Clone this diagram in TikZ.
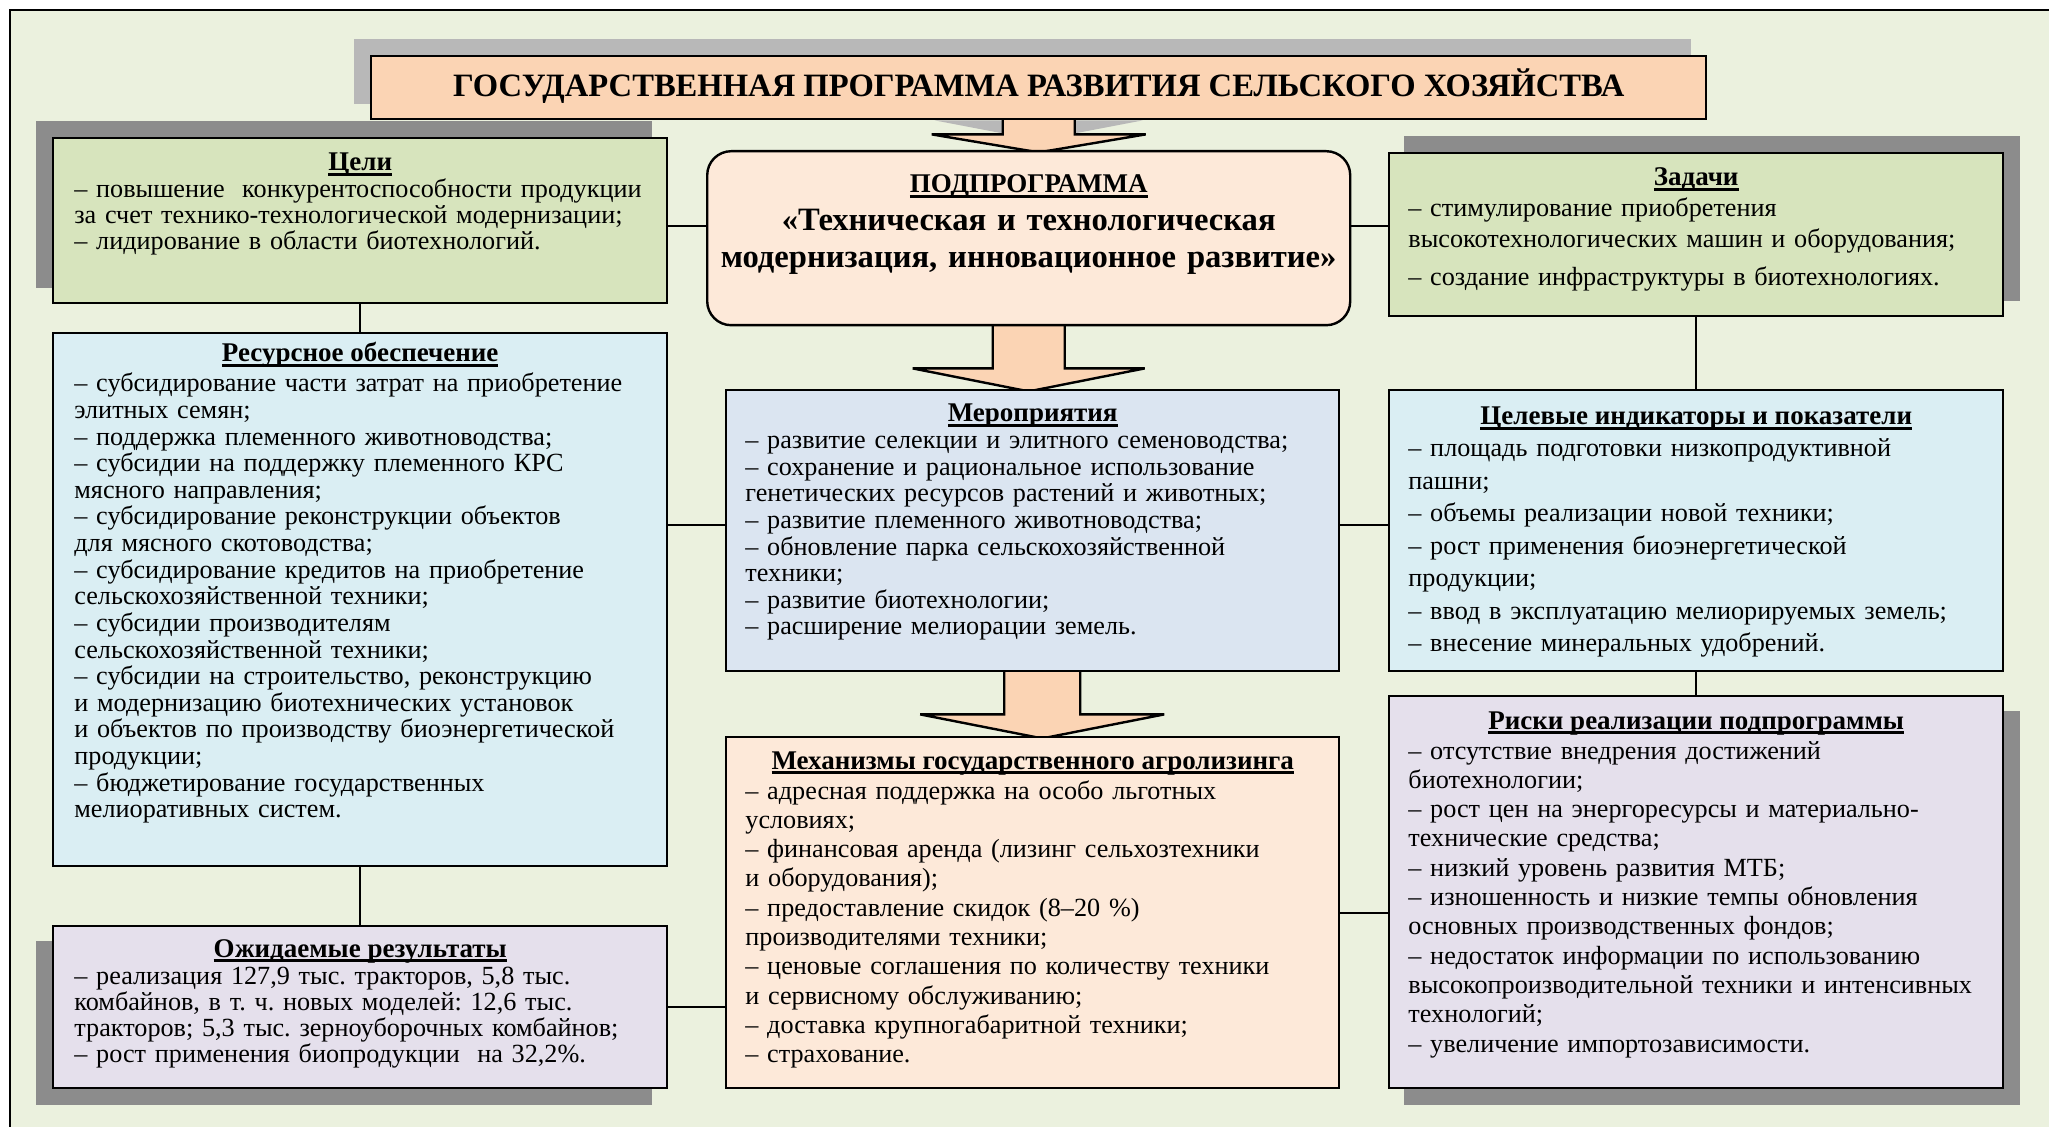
\documentclass[tikz,border=0pt]{standalone}
\usepackage{fontspec}
\setmainfont{Liberation Serif}
\usetikzlibrary{calc,backgrounds}
\frenchspacing

\definecolor{bgc}{HTML}{EBF1DE}
\definecolor{peach}{HTML}{FBD4B4}
\definecolor{peachl}{HTML}{FDE9D9}
\definecolor{olive}{HTML}{D7E4BD}
\definecolor{aqua}{HTML}{DAEEF3}
\definecolor{steel}{HTML}{DBE5F1}
\definecolor{lilac}{HTML}{E5E0EC}
\definecolor{shdark}{HTML}{8C8C8C}
\definecolor{shlight}{HTML}{B8B8B8}

% bold heading with a thick underline
\newsavebox\hdbox
\newcommand\hdul[1]{\sbox\hdbox{#1}\rlap{\rule[-2.3bp]{\wd\hdbox}{1.1bp}}\usebox\hdbox}

% block arrow: #1 base point, #2 shaft half-width, #3 head start, #4 head half-width, #5 tip
\newcommand\barrow[5]{%
  \draw[blockarrow] ($#1+(-#2,-6)$) -- ($#1+(-#2,#3)$) -- ($#1+(-#4,#3)$)
    -- ($#1+(0,#5)$) -- ($#1+(#4,#3)$) -- ($#1+(#2,#3)$) -- ($#1+(#2,-6)$) -- cycle;}

\begin{document}
\begin{tikzpicture}[x=0.5bp,y=-0.5bp,
  box/.style={draw=black,line width=1.2bp,inner sep=0pt,anchor=north west},
  hdr/.style={anchor=base,inner sep=0pt,font={\fontsize{13.5bp}{16bp}\selectfont\bfseries}},
  body/.style={anchor=base west,inner sep=0pt,align=left,text width=330bp,
     font={\fontsize{13.1bp}{#1bp}\selectfont\lineskiplimit=-30bp}},
  conn/.style={draw=black,line width=1bp},
  blockarrow/.style={draw=black,line width=1.2bp,fill=peach,line join=miter},
  shadow/.style={fill=shdark},
  ]
\useasboundingbox (0,0) rectangle (2049,1127);

% ---------- boxes ----------
\node[box,fill=peach,minimum width=667.5bp,minimum height=31.5bp] (title) at (370,55) {};
\node[anchor=base,inner sep=0pt,font={\fontsize{16.3bp}{18bp}\selectfont\bfseries}] (title-t)
  at ($(title.north)+(0,42)$) {ГОСУДАРСТВЕННАЯ ПРОГРАММА РАЗВИТИЯ СЕЛЬСКОГО ХОЗЯЙСТВА};

\node[box,fill=olive,minimum width=307bp,minimum height=82.5bp] (celi) at (52,137) {};
\node[hdr] (celi-h) at ($(celi.north)+(0,34)$) {\hdul{Цели}};
\node[body=13] (celi-t) at ($(celi.north west)+(22,61)$)
  {– повышение\ \ конкурентоспособности продукции\\
   за счет технико-технологической модернизации;\\
   – лидирование в области биотехнологий.};

\node[box,fill=peachl,rounded corners=12bp,minimum width=321.5bp,minimum height=87bp] (sub) at (706,150) {};
\node[anchor=base,inner sep=0pt,align=center,text width=330bp,
  font={\fontsize{16.3bp}{18.7bp}\selectfont\bfseries}] (sub-t) at ($(sub.north)+(0,43)$)
  {{\fontsize{13.5bp}{18.7bp}\selectfont\hdul{ПОДПРОГРАММА}}\\
   «Техническая и технологическая\\
   модернизация, инновационное развитие»};

\node[box,fill=olive,minimum width=307bp,minimum height=81.5bp] (zad) at (1388,152) {};
\node[hdr] (zad-h) at ($(zad.north)+(0,34)$) {\hdul{Задачи}};
\node[body=15.5] (zad-t) at ($(zad.north west)+(20,65)$)
  {– стимулирование приобретения\\
   высокотехнологических машин и оборудования;\\[3.5bp]
   – создание инфраструктуры в биотехнологиях.};

\node[box,fill=aqua,minimum width=307bp,minimum height=266.5bp] (res) at (52,332) {};
\node[hdr] (res-h) at ($(res.north)+(0,30)$) {\hdul{Ресурсное обеспечение}};
\node[body=13.3] (res-t) at ($(res.north west)+(22,60)$)
  {– субсидирование части затрат на приобретение\\
   элитных семян;\\
   – поддержка племенного животноводства;\\
   – субсидии на поддержку племенного КРС\\
   мясного направления;\\
   – субсидирование реконструкции объектов\\
   для мясного скотоводства;\\
   – субсидирование кредитов на приобретение\\
   сельскохозяйственной техники;\\
   – субсидии производителям\\
   сельскохозяйственной техники;\\
   – субсидии на строительство, реконструкцию\\
   и модернизацию биотехнических установок\\
   и объектов по производству биоэнергетической\\
   продукции;\\
   – бюджетирование государственных\\
   мелиоративных систем.};

\node[box,fill=steel,minimum width=306.5bp,minimum height=140.5bp] (mer) at (725,389) {};
\node[hdr] (mer-h) at ($(mer.north)+(0,33)$) {\hdul{Мероприятия}};
\node[body=13.25] (mer-t) at ($(mer.north west)+(20,60)$)
  {– развитие селекции и элитного семеноводства;\\
   – сохранение и рациональное использование\\
   генетических ресурсов растений и животных;\\
   – развитие племенного животноводства;\\
   – обновление парка сельскохозяйственной\\
   техники;\\
   – развитие биотехнологии;\\
   – расширение мелиорации земель.};

\node[box,fill=aqua,minimum width=307bp,minimum height=140.5bp] (cel) at (1388,389) {};
\node[hdr] (cel-h) at ($(cel.north)+(0,36)$) {\hdul{Целевые индикаторы и показатели}};
\node[body=16.2] (cel-t) at ($(cel.north west)+(20,68)$)
  {– площадь подготовки низкопродуктивной\\
   пашни;\\
   – объемы реализации новой техники;\\
   – рост применения биоэнергетической\\
   продукции;\\
   – ввод в эксплуатацию мелиорируемых земель;\\
   – внесение минеральных удобрений.};

\node[box,fill=peachl,minimum width=306.5bp,minimum height=175.5bp] (mech) at (725,736) {};
\node[hdr] (mech-h) at ($(mech.north)+(0,33)$) {\hdul{Механизмы государственного агролизинга}};
\node[body=14.65] (mech-t) at ($(mech.north west)+(20,63)$)
  {– адресная поддержка на особо льготных\\
   условиях;\\
   – финансовая аренда (лизинг сельхозтехники\\
   и оборудования);\\
   – предоставление скидок (8–20 \%)\\
   производителями техники;\\
   – ценовые соглашения по количеству техники\\
   и сервисному обслуживанию;\\
   – доставка крупногабаритной техники;\\
   – страхование.};

\node[box,fill=lilac,minimum width=307bp,minimum height=196bp] (risk) at (1388,695) {};
\node[hdr] (risk-h) at ($(risk.north)+(0,34)$) {\hdul{Риски реализации подпрограммы}};
\node[body=14.65] (risk-t) at ($(risk.north west)+(20,64)$)
  {– отсутствие внедрения достижений\\
   биотехнологии;\\
   – рост цен на энергоресурсы и материально-\\
   технические средства;\\
   – низкий уровень развития МТБ;\\
   – изношенность и низкие темпы обновления\\
   основных производственных фондов;\\
   – недостаток информации по использованию\\
   высокопроизводительной техники и интенсивных\\
   технологий;\\
   – увеличение импортозависимости.};

\node[box,fill=lilac,minimum width=307bp,minimum height=81bp] (ozh) at (52,925) {};
\node[hdr] (ozh-h) at ($(ozh.north)+(0,32)$) {\hdul{Ожидаемые результаты}};
\node[body=13.1] (ozh-t) at ($(ozh.north west)+(22,59)$)
  {– реализация 127,9 тыс. тракторов, 5,8 тыс.\\
   комбайнов, в т. ч. новых моделей: 12,6 тыс.\\
   тракторов; 5,3 тыс. зерноуборочных комбайнов;\\
   – рост применения биопродукции\ \ на 32,2\%.};

% ---------- connectors ----------
\coordinate (top-row) at ($(celi.north east)+(0,89)$);
\draw[conn] (top-row) -- (top-row -| sub.west);
\draw[conn] (top-row -| sub.east) -- (top-row -| zad.west);
\draw[conn] (celi.south) -- (res.north);
\draw[conn] (res.south) -- (ozh.north);
\draw[conn] (zad.south) -- (cel.north);
\draw[conn] (cel.south) -- (risk.north);
\coordinate (mid-row) at ($(mer.north west)+(0,136)$);
\draw[conn] (mid-row -| res.east) -- (mid-row);
\draw[conn] (mid-row -| mer.east) -- (mid-row -| cel.west);
\draw[conn] (ozh.east) -- (ozh.east -| mech.west);
\draw[conn] (mech.east) -- (mech.east -| risk.west);

% ---------- frame, shadows and block arrows behind the boxes ----------
\begin{pgfonlayer}{background}
  \draw[line width=1.4bp,fill=bgc] (10,10) rectangle (2090,1170);
  \fill[shlight] ($(title.north west)+(-16,-16)$) rectangle ($(title.south east)+(-16,-16)$);
  \fill[shadow] ($(celi.north west)+(-16,-16)$) rectangle ($(celi.south east)+(-16,-16)$);
  \fill[shadow] ($(zad.north west)+(16,-16)$) rectangle ($(zad.south east)+(16,-16)$);
  \fill[shadow] ($(ozh.north west)+(-16,16)$) rectangle ($(ozh.south east)+(-16,16)$);
  \fill[shadow] ($(risk.north west)+(16,16)$) rectangle ($(risk.south east)+(16,16)$);
  \coordinate (a1) at (title.south);
  \coordinate (a2) at (sub.south);
  \coordinate (a3) at ($(mer.south)+(9.5,0)$);
  \fill[shlight] ($(a1)+(-104,0)$) -- ($(a1)+(-36,0)$) -- ($(a1)+(-36,13)$) -- cycle;
  \fill[shlight] ($(a1)+(104,0)$) -- ($(a1)+(36,0)$) -- ($(a1)+(36,13)$) -- cycle;
  \barrow{(a1)}{36}{14}{107}{32}
  \barrow{(a2)}{36}{42}{116}{65}
  \barrow{(a3)}{38}{42}{122}{66}
\end{pgfonlayer}
\end{tikzpicture}
\end{document}
